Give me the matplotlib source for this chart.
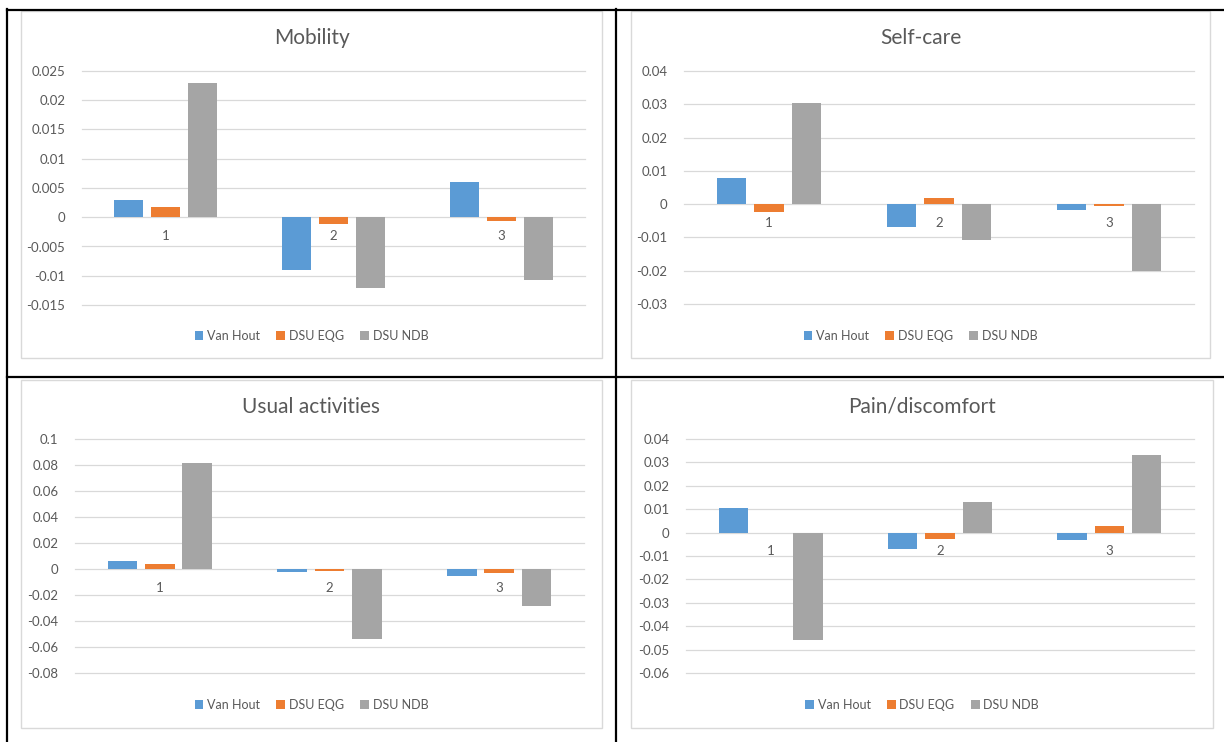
import numpy as np
import matplotlib.pyplot as plt
from matplotlib.lines import Line2D
from matplotlib.patches import Rectangle

plt.rcParams['font.family'] = ['Lato', 'DejaVu Sans']

W, H = 1224, 742

levels = ['1', '2', '3']
series = ['Van Hout', 'DSU EQG', 'DSU NDB']
colors = ['#5B9BD5', '#ED7D31', '#A5A5A5']

mobility_vh = [0.003, -0.009, 0.006]
mobility_eqg = [0.0018, -0.0012, -0.0007]
mobility_ndb = [0.0229, -0.0121, -0.0108]

selfcare_vh = [0.008, -0.0068, -0.0017]
selfcare_eqg = [-0.0023, 0.0019, -0.0005]
selfcare_ndb = [0.0304, -0.0108, -0.0202]

usual_vh = [0.0059, -0.002, -0.0051]
usual_eqg = [0.0038, -0.0012, -0.003]
usual_ndb = [0.0815, -0.0538, -0.0285]

pain_vh = [0.0105, -0.007, -0.0031]
pain_eqg = [0.0, -0.0026, 0.0028]
pain_ndb = [-0.0461, 0.013, 0.0333]

panels = [
    # title, data, yticks, chart frame (px), plot area (px)
    ('Mobility', [mobility_vh, mobility_eqg, mobility_ndb],
     np.arange(-0.015, 0.0251, 0.005), (21, 11, 602, 358), (82, 71, 585, 305)),
    ('Self-care', [selfcare_vh, selfcare_eqg, selfcare_ndb],
     np.arange(-0.03, 0.0401, 0.01), (631, 11, 1210, 358), (684, 71, 1194, 304)),
    ('Usual activities', [usual_vh, usual_eqg, usual_ndb],
     np.arange(-0.08, 0.101, 0.02), (21, 380, 602, 728), (75, 439, 584, 673)),
    ('Pain/discomfort', [pain_vh, pain_eqg, pain_ndb],
     np.arange(-0.06, 0.0401, 0.01), (631, 380, 1213, 728), (686, 439, 1194, 673)),
]


def fx(x):
    return x / W


def fy(y):
    return 1 - y / H


def fmt(v):
    v = round(v, 4)
    if abs(v) < 1e-12:
        v = 0.0
    return f'{v:g}'


fig = plt.figure(figsize=(W / 100, H / 100), dpi=100)

txt = '#595959'
grid = '#D9D9D9'
x = np.arange(1, 4)
bw = 0.173
offsets = [-0.22, 0.0, 0.22]

for title, data, yt, frame, area in panels:
    fx0, fy0, fx1, fy1 = frame
    fig.patches.append(Rectangle((fx(fx0), fy(fy1)), fx(fx1 - fx0), (fy1 - fy0) / H,
                                 transform=fig.transFigure, facecolor='none',
                                 edgecolor='#D9D9D9', lw=1.0, zorder=-1))
    x0, y0, x1, y1 = area
    ax = fig.add_axes([fx(x0), fy(y1), fx(x1 - x0), (y1 - y0) / H])
    ax.set_facecolor('none')
    for vals, off, c, name in zip(data, offsets, colors, series):
        ax.bar(x + off, vals, width=bw, color=c, label=name, zorder=3)
    ax.set_xlim(0.5, 3.5)
    ax.set_ylim(yt[0], yt[-1])
    ax.set_yticks(yt)
    ax.set_yticklabels([fmt(v) for v in yt])
    ax.set_xticks(x)
    ax.set_xticklabels(levels)
    for v in yt:
        ax.axhline(v, color=grid, lw=0.9, zorder=1, clip_on=False)
    for s in ax.spines.values():
        s.set_visible(False)
    ax.spines['bottom'].set_position(('data', 0))
    ax.tick_params(axis='y', length=0, pad=12, labelsize=9.5, labelcolor=txt)
    ax.tick_params(axis='x', length=0, pad=9, labelsize=9.5, labelcolor=txt)

    cx = (fx0 + fx1) / 2
    fig.text(fx(cx), fy(fy0 + 27), title, ha='center', va='center',
             fontsize=15, color=txt)
    ax.legend(loc='center', bbox_to_anchor=(fx(cx), fy(fy0 + 325)),
              bbox_transform=fig.transFigure, ncol=3, frameon=False,
              fontsize=9, labelcolor=txt, handlelength=0.7, handleheight=0.7,
              handletextpad=0.3, columnspacing=1.3)

# table rules around the four charts
rules = [((7, 1224), (10, 10)), ((7, 7), (9, 742)),
         ((616, 616), (9, 742)), ((7, 1224), (377.5, 377.5))]
for xs, ys in rules:
    fig.lines.append(Line2D([fx(v) for v in xs], [fy(v) for v in ys],
                            transform=fig.transFigure, color='black', lw=1.6))

fig.savefig('out.png', dpi=100, facecolor='white')
